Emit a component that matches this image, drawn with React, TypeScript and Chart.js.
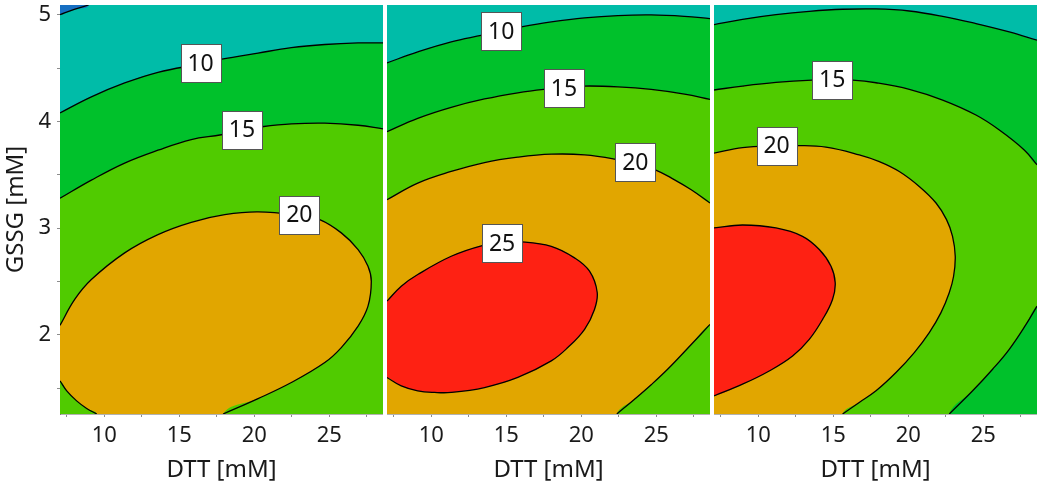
import React, { useEffect, useRef } from 'react';
import { Chart, registerables } from 'chart.js';

Chart.register(...registerables);

type Pt = [number, number];

// ---------- axes ----------
const X_MIN = 7.05;
const X_MAX = 28.58;
const Y_MIN = 1.26;
const Y_MAX = 5.09;

const xTickValues = [7.5, 10, 12.5, 15, 17.5, 20, 22.5, 25, 27.5];
const xTickLabels = ['', '10', '', '15', '', '20', '', '25', ''];
const yTickValues = [1.5, 2, 2.5, 3, 3.5, 4, 4.5, 5];
const yTickLabels = ['', '2', '', '3', '', '4', '', '5'];

const xTitle = 'DTT [mM]';
const yTitle = 'GSSG [mM]';

// ---------- level colours ----------
const colBelow5 = '#166fc2';
const col5to10 = '#00bca8';
const col10to15 = '#00c12b';
const col15to20 = '#50cb00';
const col20to25 = '#e1a600';
const colAbove25 = '#fe2113';

// ---------- panel 1 contours (DTT, GSSG) ----------
const p1Level5: Pt[] = [[7.05, 5.0], [8.0, 5.05], [8.96, 5.09]];
const p1Level10: Pt[] = [[7.05, 4.08], [9.14, 4.23], [11.36, 4.36], [13.58, 4.46], [16.47, 4.54], [17.74, 4.58], [20.25, 4.64], [22.47, 4.69], [24.7, 4.72], [26.92, 4.735], [28.58, 4.735]];
const p1Level15: Pt[] = [[7.05, 3.28], [9.14, 3.45], [11.36, 3.61], [13.58, 3.73], [15.8, 3.83], [17.8, 3.875], [19.18, 3.92], [20.52, 3.95], [22.47, 3.976], [24.7, 3.983], [26.92, 3.964], [28.58, 3.93]];
const p1Level20a: Pt[] = [[7.05, 2.09], [8.03, 2.333], [9.14, 2.519], [11.36, 2.769], [13.58, 2.94], [15.8, 3.055], [18.03, 3.126], [20.25, 3.152], [22.98, 3.12], [24.36, 3.08], [25.8, 2.956], [26.92, 2.8], [27.58, 2.644], [27.8, 2.504], [27.58, 2.27], [26.92, 2.083], [25.8, 1.882], [24.7, 1.742], [22.47, 1.555], [20.25, 1.404], [17.92, 1.26]];
const p1Level20b: Pt[] = [[9.5, 1.26], [8.83, 1.312], [8.16, 1.383], [7.5, 1.477], [7.05, 1.57]];
const p1LabelText = ['10', '15', '20'];
const p1LabelX = [16.42, 19.18, 23.0];
const p1LabelY = [4.546, 3.92, 3.126];

// ---------- panel 2 contours ----------
const p2Level10: Pt[] = [[7.05, 4.548], [9.1, 4.651], [11.33, 4.745], [13.4, 4.807], [14.66, 4.846], [16.0, 4.885], [18.0, 4.931], [20.22, 4.969], [22.44, 4.991], [24.66, 4.997], [26.88, 4.984], [28.58, 4.963]];
const p2Level15: Pt[] = [[7.05, 3.904], [9.1, 4.029], [11.33, 4.132], [13.55, 4.21], [15.77, 4.268], [17.5, 4.3], [18.84, 4.315], [20.17, 4.331], [22.44, 4.324], [24.66, 4.3], [26.88, 4.256], [28.58, 4.207]];
const p2Level20a: Pt[] = [[7.05, 3.266], [9.1, 3.422], [11.33, 3.531], [13.55, 3.615], [15.77, 3.665], [18.0, 3.693], [20.22, 3.687], [22.22, 3.647], [23.6, 3.6], [24.93, 3.547], [26.22, 3.453], [27.33, 3.36], [28.58, 3.236]];
const p2Level20b: Pt[] = [[28.58, 2.099], [27.33, 1.911], [25.77, 1.681], [24.66, 1.534], [23.55, 1.398], [22.37, 1.26]];
const p2Level25: Pt[] = [[7.05, 2.317], [8.0, 2.457], [9.1, 2.566], [11.33, 2.737], [13.4, 2.837], [14.72, 2.865], [16.04, 2.872], [18.0, 2.83], [19.55, 2.722], [20.55, 2.597], [21.06, 2.4], [20.88, 2.239], [20.22, 2.053], [19.1, 1.882], [18.0, 1.757], [15.77, 1.602], [13.55, 1.508], [11.33, 1.462], [10.22, 1.462], [9.1, 1.477], [8.0, 1.523], [7.05, 1.602]];
const p2LabelText = ['10', '15', '20', '25'];
const p2LabelX = [14.66, 18.84, 23.6, 14.72];
const p2LabelY = [4.846, 4.31, 3.618, 2.86];

// ---------- panel 3 contours ----------
const p3Level10: Pt[] = [[7.05, 4.907], [8.95, 4.956], [11.18, 5.0], [13.4, 5.031], [15.62, 5.05], [17.85, 5.053], [20.07, 5.034], [22.29, 4.984], [24.51, 4.916], [26.73, 4.838], [28.58, 4.76]];
const p3Level15a: Pt[] = [[7.05, 4.294], [8.95, 4.331], [11.18, 4.365], [13.58, 4.387], [14.93, 4.39], [16.29, 4.387], [17.85, 4.362], [20.07, 4.3], [22.29, 4.2], [24.51, 4.06], [26.07, 3.92], [27.73, 3.733], [28.58, 3.593]];
const p3Level15b: Pt[] = [[28.58, 2.27], [27.85, 2.099], [26.73, 1.866], [25.62, 1.679], [24.29, 1.477], [22.73, 1.26]];
const p3Level20: Pt[] = [[7.05, 3.703], [8.95, 3.755], [11.22, 3.772], [12.55, 3.774], [14.51, 3.759], [16.73, 3.687], [18.07, 3.624], [19.4, 3.531], [20.73, 3.391], [21.85, 3.236], [22.55, 3.08], [22.95, 2.924], [23.13, 2.737], [23.02, 2.55], [22.73, 2.395], [22.18, 2.209], [21.4, 2.022], [20.4, 1.835], [19.18, 1.648], [17.85, 1.477], [16.73, 1.368], [15.62, 1.26]];
const p3Level25: Pt[] = [[7.05, 3.002], [8.95, 3.03], [11.18, 3.002], [12.95, 2.924], [14.07, 2.8], [14.85, 2.644], [15.13, 2.489], [14.95, 2.333], [14.29, 2.146], [13.4, 1.959], [12.29, 1.803], [10.73, 1.663], [8.95, 1.539], [7.05, 1.43]];
const p3LabelText = ['15', '20'];
const p3LabelX = [14.93, 11.22];
const p3LabelY = [4.39, 3.774];

// points just outside the visible window, used to close filled regions
const OUT_L = 6.0;
const OUT_R = 29.6;
const OUT_B = 0.9;
const OUT_T = 5.5;

const FONT = '"Noto Sans", "DejaVu Sans", sans-serif';
const TEXT = '#1a1a1a';

type Region = { pts: Pt[]; color: string };
type PanelCfg = {
  left: number;
  width: number;
  showY: boolean;
  base: string;
  regions: Region[]; // lowest first
  lines: Pt[][];
  labelText: string[];
  labelX: number[];
  labelY: number[];
};

const belowTo = (c: Pt[]): Pt[] => [...c, [OUT_R, c[c.length - 1][1]], [OUT_R, OUT_B], [OUT_L, OUT_B], [OUT_L, c[0][1]]];
const first = (c: Pt[]) => c[0];
const last = (c: Pt[]) => c[c.length - 1];

const panels: PanelCfg[] = [
  {
    left: 0,
    width: 383,
    showY: true,
    base: col5to10,
    regions: [
      { pts: [...p1Level5, [last(p1Level5)[0], OUT_T], [OUT_L, OUT_T], [OUT_L, first(p1Level5)[1]]], color: colBelow5 },
      { pts: belowTo(p1Level10), color: col10to15 },
      { pts: belowTo(p1Level15), color: col15to20 },
      {
        pts: [
          ...p1Level20a,
          [last(p1Level20a)[0], OUT_B],
          [first(p1Level20b)[0], OUT_B],
          ...p1Level20b,
          [OUT_L, last(p1Level20b)[1]],
          [OUT_L, first(p1Level20a)[1]],
        ],
        color: col20to25,
      },
    ],
    lines: [p1Level5, p1Level10, p1Level15, p1Level20a, p1Level20b],
    labelText: p1LabelText,
    labelX: p1LabelX,
    labelY: p1LabelY,
  },
  {
    left: 387,
    width: 323,
    showY: false,
    base: col5to10,
    regions: [
      { pts: belowTo(p2Level10), color: col10to15 },
      { pts: belowTo(p2Level15), color: col15to20 },
      {
        pts: [
          ...p2Level20a,
          [OUT_R, last(p2Level20a)[1]],
          [OUT_R, first(p2Level20b)[1]],
          ...p2Level20b,
          [last(p2Level20b)[0], OUT_B],
          [OUT_L, OUT_B],
          [OUT_L, first(p2Level20a)[1]],
        ],
        color: col20to25,
      },
      { pts: [...p2Level25, [OUT_L, last(p2Level25)[1]], [OUT_L, first(p2Level25)[1]]], color: colAbove25 },
    ],
    lines: [p2Level10, p2Level15, p2Level20a, p2Level20b, p2Level25],
    labelText: p2LabelText,
    labelX: p2LabelX,
    labelY: p2LabelY,
  },
  {
    left: 714,
    width: 323,
    showY: false,
    base: col5to10,
    regions: [
      { pts: belowTo(p3Level10), color: col10to15 },
      {
        pts: [
          ...p3Level15a,
          [OUT_R, last(p3Level15a)[1]],
          [OUT_R, first(p3Level15b)[1]],
          ...p3Level15b,
          [last(p3Level15b)[0], OUT_B],
          [OUT_L, OUT_B],
          [OUT_L, first(p3Level15a)[1]],
        ],
        color: col15to20,
      },
      {
        pts: [...p3Level20, [last(p3Level20)[0], OUT_B], [OUT_L, OUT_B], [OUT_L, first(p3Level20)[1]]],
        color: col20to25,
      },
      { pts: [...p3Level25, [OUT_L, last(p3Level25)[1]], [OUT_L, first(p3Level25)[1]]], color: colAbove25 },
    ],
    lines: [p3Level10, p3Level15a, p3Level15b, p3Level20, p3Level25],
    labelText: p3LabelText,
    labelX: p3LabelX,
    labelY: p3LabelY,
  },
];

const labelFor = (vals: number[], labels: string[], v: number) => {
  const i = vals.findIndex((t) => Math.abs(t - v) < 1e-6);
  return i >= 0 ? labels[i] : '';
};

const toXY = (pts: Pt[]) => pts.map(([x, y]) => ({ x, y }));

function buildConfig(p: PanelCfg): any {
  const lineSets = p.lines.map((l) => ({
    data: toXY(l),
    showLine: true,
    fill: false,
    borderColor: '#000000',
    borderWidth: 1.3,
    pointRadius: 0,
    clip: 0,
  }));
  const fillSets = [...p.regions].reverse().map((r) => ({
    data: toXY(r.pts),
    showLine: true,
    fill: 'shape',
    backgroundColor: r.color,
    borderColor: 'rgba(0,0,0,0)',
    borderWidth: 0,
    pointRadius: 0,
    clip: 0,
  }));

  const basePlugin = {
    id: 'basefill',
    beforeDatasetsDraw(chart: any) {
      const { ctx, chartArea: a } = chart;
      ctx.save();
      ctx.fillStyle = p.base;
      ctx.fillRect(a.left, a.top, a.right - a.left, a.bottom - a.top);
      ctx.restore();
    },
  };

  const labelPlugin = {
    id: 'contourlabels',
    afterDatasetsDraw(chart: any) {
      const { ctx } = chart;
      const xs = chart.scales.x;
      const ys = chart.scales.y;
      ctx.save();
      p.labelText.forEach((t, i) => {
        const cx = xs.getPixelForValue(p.labelX[i]);
        const cy = ys.getPixelForValue(p.labelY[i]);
        const w = 40;
        const h = 38;
        const x0 = Math.round(cx - w / 2) + 0.5;
        const y0 = Math.round(cy - h / 2) + 0.5;
        ctx.fillStyle = '#ffffff';
        ctx.fillRect(x0, y0, w, h);
        ctx.strokeStyle = '#555555';
        ctx.lineWidth = 1;
        ctx.strokeRect(x0, y0, w, h);
        ctx.fillStyle = '#111111';
        ctx.font = `23px ${FONT}`;
        ctx.textAlign = 'center';
        ctx.textBaseline = 'middle';
        ctx.fillText(t, cx, cy + 1);
      });
      ctx.restore();
    },
  };

  return {
    type: 'scatter',
    data: { datasets: [...lineSets, ...fillSets] },
    plugins: [basePlugin, labelPlugin],
    options: {
      responsive: false,
      animation: false,
      events: [],
      layout: { padding: { top: 5, left: 0, right: 0, bottom: 0 } },
      elements: {
        point: { radius: 0 },
        line: { tension: 0.4, capBezierPoints: false },
      },
      plugins: {
        legend: { display: false },
        tooltip: { enabled: false },
      },
      scales: {
        x: {
          type: 'linear',
          min: X_MIN,
          max: X_MAX,
          afterBuildTicks: (s: any) => {
            s.ticks = xTickValues.map((v) => ({ value: v }));
          },
          afterFit: (s: any) => {
            s.height = 71;
            s.paddingLeft = 0;
            s.paddingRight = 0;
          },
          ticks: {
            autoSkip: false,
            maxRotation: 0,
            padding: 6,
            color: TEXT,
            font: { family: FONT, size: 22 },
            callback: (v: number) => labelFor(xTickValues, xTickLabels, v),
          },
          grid: { drawOnChartArea: false, drawTicks: true, tickLength: 3, color: '#8c8c8c' },
          border: { display: true, color: 'rgba(0,0,0,0.3)', dash: [1, 2] },
          title: {
            display: true,
            text: xTitle,
            color: TEXT,
            font: { family: FONT, size: 24 },
            padding: { top: 0, bottom: 0 },
          },
        },
        y: {
          type: 'linear',
          display: p.showY,
          min: Y_MIN,
          max: Y_MAX,
          afterBuildTicks: (s: any) => {
            s.ticks = yTickValues.map((v) => ({ value: v }));
          },
          afterFit: (s: any) => {
            s.width = p.showY ? 60 : 0;
            s.paddingTop = 0;
            s.paddingBottom = 0;
          },
          ticks: {
            autoSkip: false,
            padding: 6,
            color: TEXT,
            font: { family: FONT, size: 22 },
            callback: (v: number) => labelFor(yTickValues, yTickLabels, v),
          },
          grid: { drawOnChartArea: false, drawTicks: true, tickLength: 3, color: '#8c8c8c' },
          border: { display: true, color: 'rgba(0,0,0,0.3)', dash: [1, 2] },
          title: {
            display: true,
            text: yTitle,
            color: TEXT,
            font: { family: FONT, size: 24 },
            padding: { top: 2, bottom: 0 },
          },
        },
      },
    },
  };
}

function Panel({ cfg }: { cfg: PanelCfg }) {
  const ref = useRef<HTMLCanvasElement>(null);
  useEffect(() => {
    const chart = new Chart(ref.current as HTMLCanvasElement, buildConfig(cfg));
    return () => chart.destroy();
  }, [cfg]);
  return (
    <canvas
      ref={ref}
      width={cfg.width}
      height={485}
      style={{ position: 'absolute', left: cfg.left, top: 0, width: cfg.width, height: 485 }}
    />
  );
}

export default function App() {
  useEffect(() => {
    document.body.style.margin = '0';
    document.body.style.background = '#ffffff';
  }, []);
  return (
    <div style={{ position: 'fixed', left: 0, top: 0, width: 1037, height: 485, background: '#ffffff' }}>
      {panels.map((p, i) => (
        <Panel key={i} cfg={p} />
      ))}
    </div>
  );
}
